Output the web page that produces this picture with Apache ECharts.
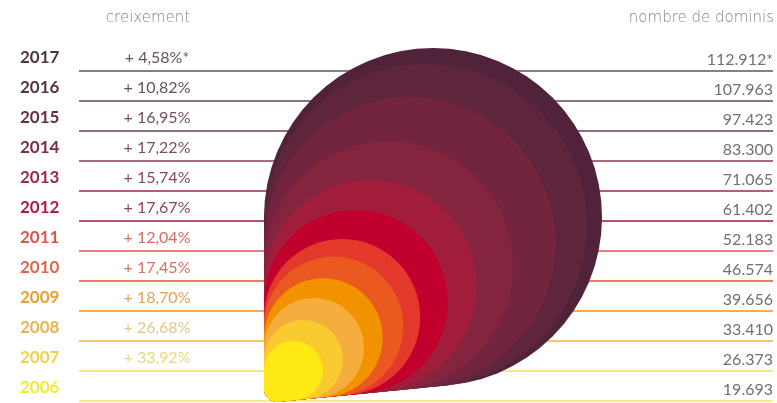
<!DOCTYPE html>
<html>
<head>
<meta charset="utf-8">
<script src="https://cdn.jsdelivr.net/npm/echarts@6/dist/echarts.min.js"></script>
<style>html,body{margin:0;padding:0;background:#fff}#c{width:777px;height:403px}</style>
</head>
<body>
<div id="c"></div>
<script>
// ---- data (chronological) ----
const years = ['2006','2007','2008','2009','2010','2011','2012','2013','2014','2015','2016','2017'];
const growth = [null, 33.92, 26.68, 18.70, 17.45, 12.04, 17.67, 15.74, 17.22, 16.95, 10.82, 4.58];
const domains = [19693, 26373, 33410, 39656, 46574, 52183, 61402, 71065, 83300, 97423, 107963, 112912];
const provisional = [false,false,false,false,false,false,false,false,false,false,false,true];

// ---- styles ----
const shapeColors = ['#ffe914','#f9cb2e','#f5ad3d','#f39200','#ea5a20','#e2392b','#c2002e','#a21d3b','#85243f','#73243e','#5e253c','#50233a'];
const yearColors  = ['#f3e93a','#f1d24a','#ebb354','#e8a030','#de6648','#d8564e','#b01a42','#9a2a4a','#7a2d4a','#653045','#563242','#4d3441'];
const pctColors   = ['#eee080','#ecd67e','#e9c488','#e0a25e','#d8705e','#d66a68','#8f4058','#8a465e','#7c4c64','#704e60','#6a505e','#66545c'];
const lineColors  = ['#f8ee80','#f6e48c','#f4c86c','#f3ac52','#ee7e5e','#e88080','#b5506c','#b56078','#a56d80','#8e6e7c','#8c7580','#8b7d85'];

const FONT = 'Lato';
function fmtPct(v, star){ return '+ ' + v.toFixed(2).replace('.', ',') + '%' + (star ? '*' : ''); }
function fmtNum(v, star){ return String(v).replace(/\B(?=(\d{3})+(?!\d))/g, '.') + (star ? '*' : ''); }

const rowData = years.map((y, i) => [i, domains[i]]);
const shapeData = domains.map((d, i) => [d, i]).sort((a, b) => b[0] - a[0]);

const chart = echarts.init(document.getElementById('c'), null, {renderer: 'canvas'});
chart.setOption({
  animation: false,
  title: [
    {text: 'creixement', left: 148, top: 11, textAlign: 'center', padding: 0,
     textStyle: {fontFamily: 'DejaVu Sans', fontWeight: 200, fontSize: 15, color: '#858585'}},
    {text: 'nombre de dominis', right: 3, top: 11, padding: 0,
     textStyle: {fontFamily: 'DejaVu Sans', fontWeight: 200, fontSize: 15, color: '#858585'}}
  ],
  grid: [
    {left: 0, right: 0, top: 42, bottom: 1},
    {left: 264, bottom: -5, width: 338, height: 338}
  ],
  xAxis: [
    {gridIndex: 0, type: 'value', min: 0, max: 777, show: false},
    {gridIndex: 1, type: 'value', min: 0, max: 112912, show: false}
  ],
  yAxis: [
    {gridIndex: 0, type: 'category', data: years, show: false},
    {gridIndex: 1, type: 'value', min: 0, max: 112912, show: false}
  ],
  series: [
    {
      type: 'custom', xAxisIndex: 0, yAxisIndex: 0, z: 1,
      data: rowData,
      renderItem: function (params, api) {
        const i = api.value(0);
        const c = api.coord([0, i]);
        const band = api.size([0, 1])[1];
        const ly = Math.round(c[1] + band / 2) - 1;
        const x0 = api.coord([79, i])[0], x1 = api.coord([773, i])[0];
        const xp = api.coord([157, i])[0], xy = api.coord([20, i])[0];
        const children = [
          {type: 'line', shape: {x1: x0, y1: ly, x2: x1, y2: ly}, style: {stroke: lineColors[i], lineWidth: 2}},
          {type: 'text', style: {text: years[i], x: xy, y: ly - 13, textAlign: 'left', textVerticalAlign: 'middle',
            fill: yearColors[i], font: 'bold 17px ' + FONT}},
          {type: 'text', style: {text: fmtNum(domains[i], provisional[i]), x: x1, y: ly - 11, textAlign: 'right', textVerticalAlign: 'middle',
            fill: '#707070', font: 'normal 16px ' + FONT}}
        ];
        if (growth[i] != null) {
          children.push({type: 'text', style: {text: fmtPct(growth[i], provisional[i]), x: xp, y: ly - 13, textAlign: 'center', textVerticalAlign: 'middle',
            fill: pctColors[i], font: 'normal 16px ' + FONT}});
        }
        return {type: 'group', children: children};
      }
    },
    {
      type: 'custom', xAxisIndex: 1, yAxisIndex: 1, z: 5, clip: false,
      data: shapeData,
      renderItem: function (params, api) {
        const v = api.value(0), idx = api.value(1);
        const p0 = api.coord([0, 0]);
        const p1 = api.coord([v, v]);
        const R = (p1[0] - p0[0]) / 2;
        const a = 1.10;
        const px = p0[0], py = p0[1];
        const cx = px + R, cy = py - a * R;
        const T1 = [px, cy];
        const ux = cx - px, uy = cy - py, ul = Math.hypot(ux, uy);
        const u = [ux / ul, uy / ul];
        const w = [T1[0] - px, T1[1] - py];
        const dp = w[0] * u[0] + w[1] * u[1];
        const T2 = [px + 2 * dp * u[0] - w[0], py + 2 * dp * u[1] - w[1]];
        const rc = 13;
        const d1 = [0, -1];
        const d2l = Math.hypot(T2[0] - px, T2[1] - py);
        const d2 = [(T2[0] - px) / d2l, (T2[1] - py) / d2l];
        let bx = d1[0] + d2[0], by = d1[1] + d2[1];
        const bl = Math.hypot(bx, by); bx /= bl; by /= bl;
        const half = Math.acos(d1[0] * d2[0] + d1[1] * d2[1]) / 2;
        const tl = rc / Math.tan(half), cl = rc / Math.sin(half);
        const A = [px + d1[0] * tl, py + d1[1] * tl];
        const B = [px + d2[0] * tl, py + d2[1] * tl];
        const Cc = [px + bx * cl, py + by * cl];
        const fill = shapeColors[idx];
        const zb = (years.length - 1 - idx) * 3;
        return {
          type: 'group', children: [
            {type: 'circle', z2: zb, shape: {cx: cx, cy: cy, r: R}, style: {fill: fill}},
            {type: 'polygon', z2: zb + 1, shape: {points: [A, T1, [cx, cy], T2, B, Cc]}, style: {fill: fill}},
            {type: 'circle', z2: zb + 2, shape: {cx: Cc[0], cy: Cc[1], r: rc}, style: {fill: fill}}
          ]
        };
      }
    }
  ]
});
</script>
</body>
</html>
